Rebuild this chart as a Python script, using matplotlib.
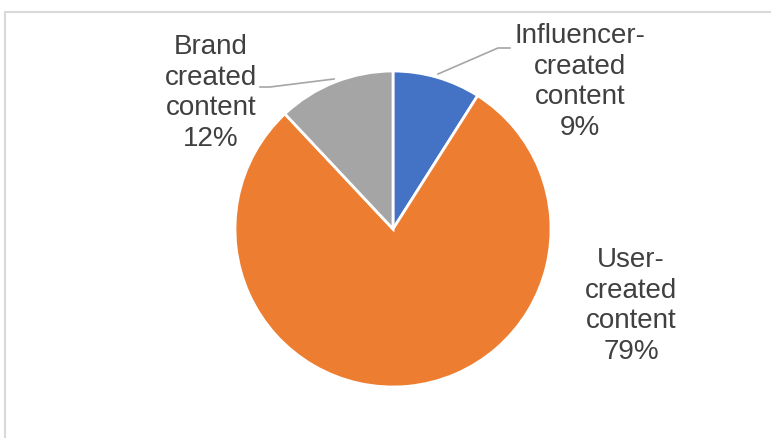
import matplotlib.pyplot as plt

labels = ["Influencer-\ncreated\ncontent", "User-\ncreated\ncontent", "Brand\ncreated\ncontent"]
shares = [9, 79, 12]
colors = ["#4472C4", "#ED7D31", "#A5A5A5"]

W, H = 771, 438
plt.rcParams['font.family'] = ['Liberation Sans', 'DejaVu Sans']

fig = plt.figure(figsize=(W / 100, H / 100), dpi=100)
ax = fig.add_axes([0, 0, 1, 1])

# pixel helper: y measured from the top of the picture
def py(y):
    return H - y

cx, cy, r = 393, py(229), 158
ax.pie(shares, colors=colors, startangle=90, counterclock=False,
       center=(cx, cy), radius=r, frame=True,
       wedgeprops=dict(edgecolor="white", linewidth=2))
ax.set_xlim(0, W)
ax.set_ylim(0, H)
ax.axis("off")

# chart border (only top and left are inside the picture)
ax.plot([5, 5, W], [0, py(12), py(12)], color="#D9D9D9", lw=1.5,
        solid_joinstyle="miter")

txt = dict(fontsize=20, color="#404040", ha="center", va="center",
           linespacing=1.24)
pos = [(580, 82), (631, 306), (211, 93)]
for lab, val, (x, y) in zip(labels, shares, pos):
    ax.text(x, py(y), f"{lab}\n{val}%", **txt)

# leader lines
ax.plot([438, 498, 510], [py(74), py(48), py(48)], color="#A6A6A6", lw=1.2)
ax.plot([260, 270, 334], [py(87), py(87), py(79)], color="#A6A6A6", lw=1.2)

fig.savefig("out.png", dpi=100)
